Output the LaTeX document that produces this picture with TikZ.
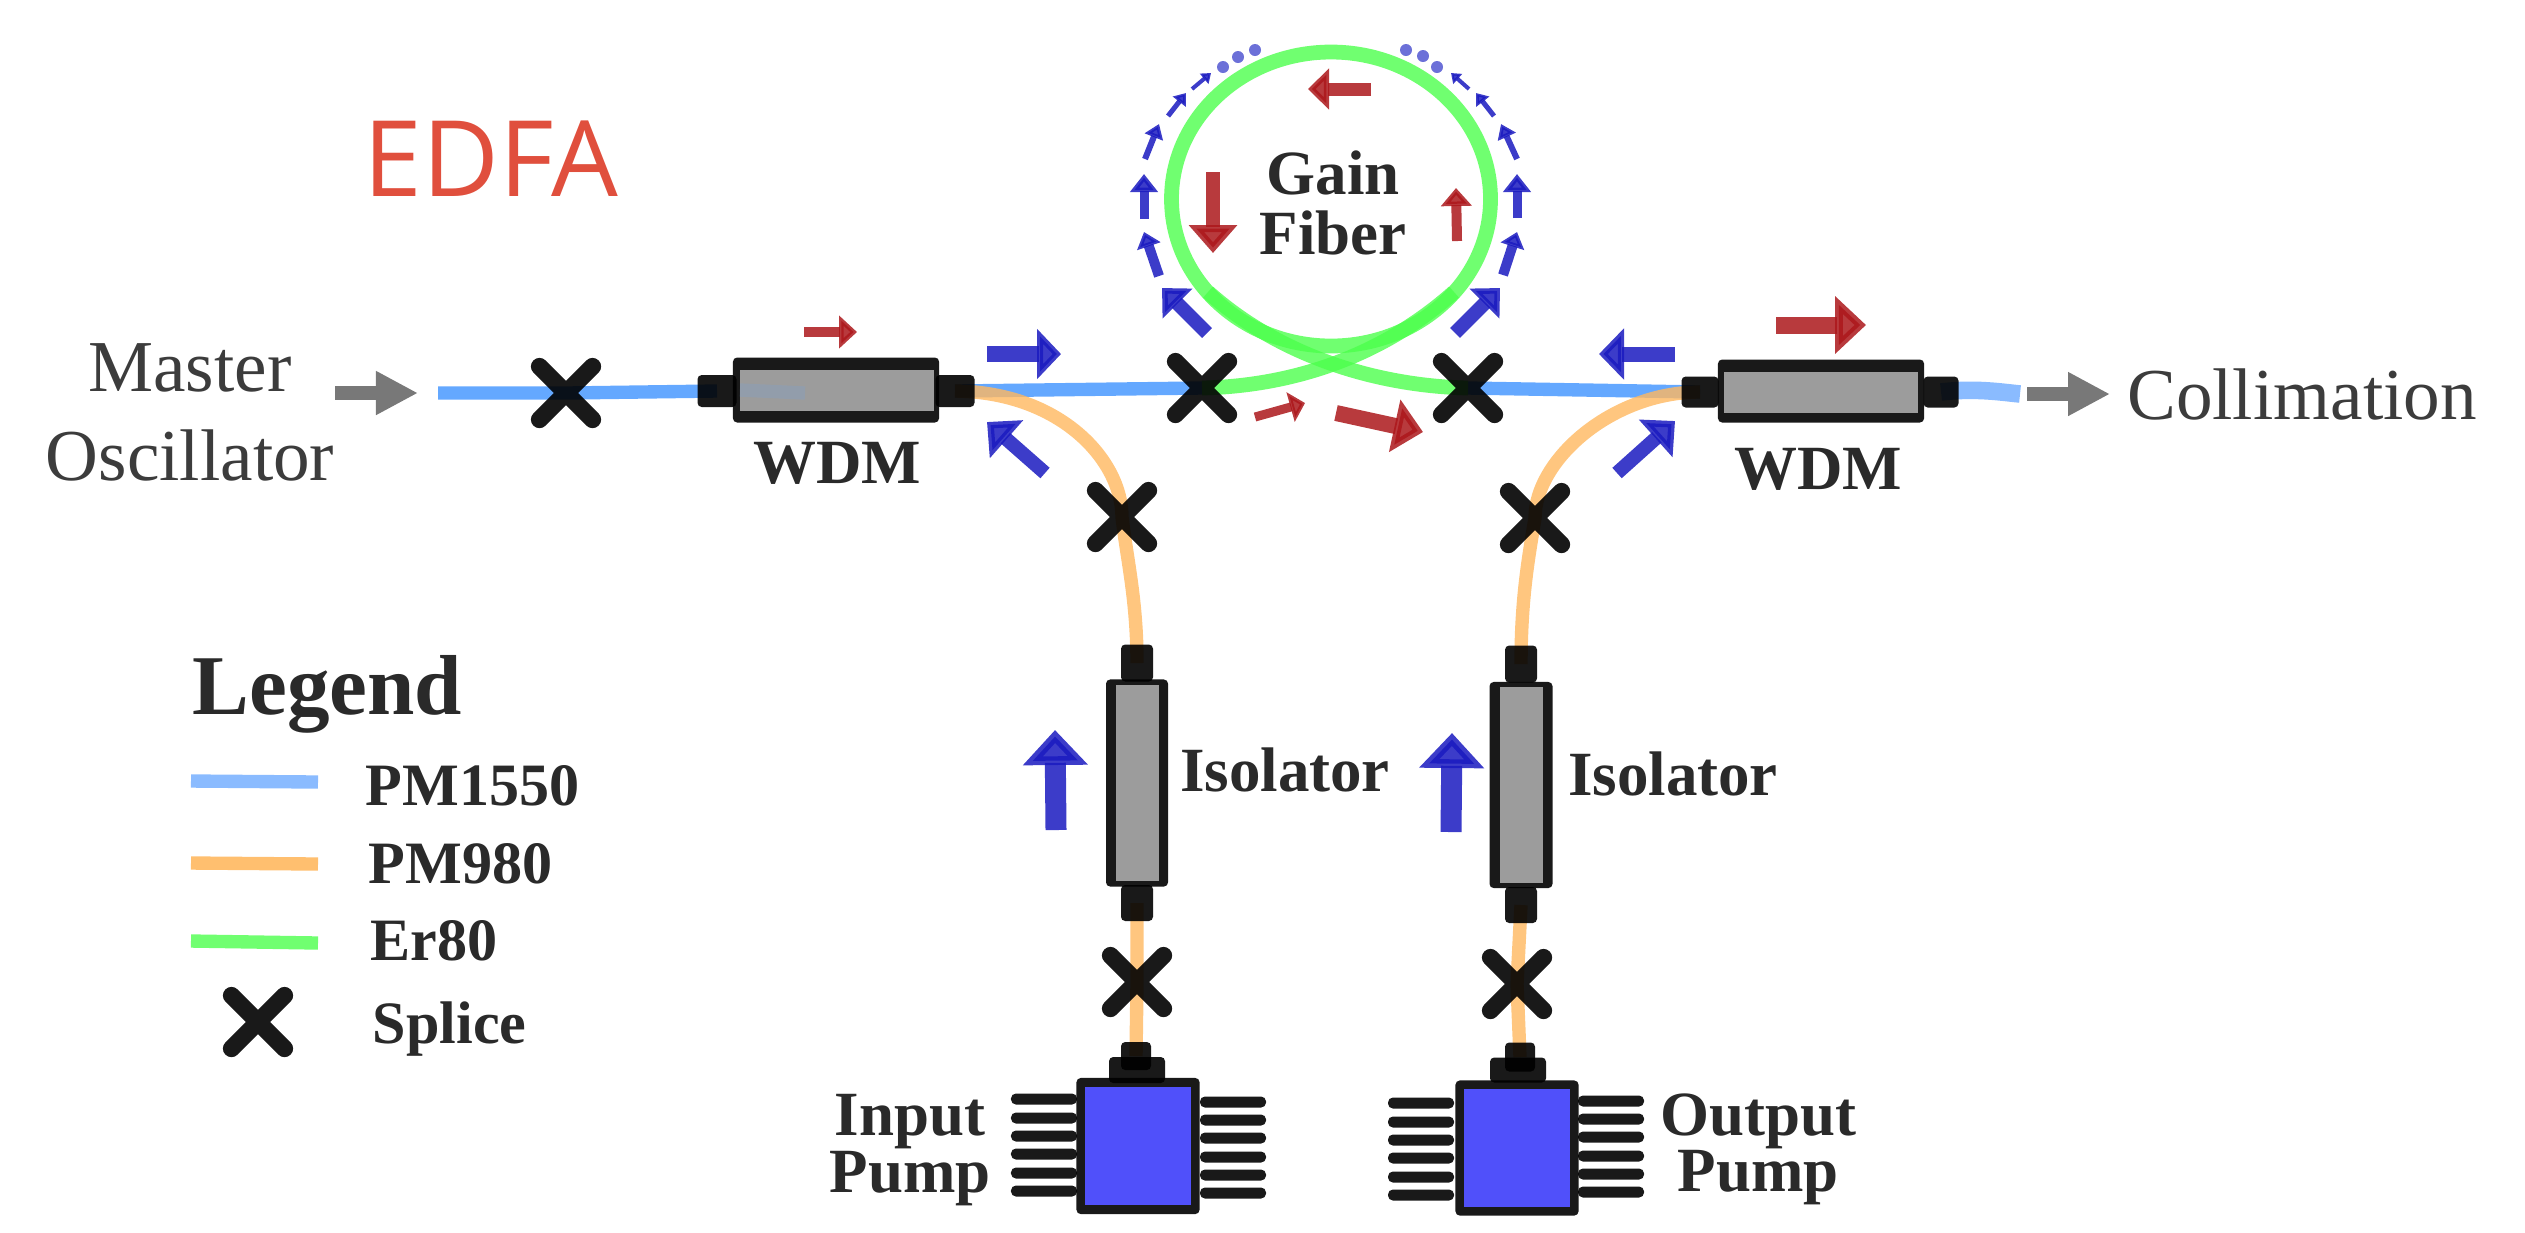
\documentclass[tikz,border=0pt]{standalone}
\usepackage{fontspec}
\setmainfont{Liberation Serif}
\newfontfamily\titlefont{Open Sans}
\usetikzlibrary{arrows.meta,backgrounds,shapes.misc}

\definecolor{fibblue}{HTML}{64A8FF}
\definecolor{fiblight}{HTML}{8ABBFF}
\definecolor{fiborange}{HTML}{FFB85F}
\definecolor{fibgreen}{HTML}{4CFF4C}
\definecolor{flowblue}{HTML}{1A1AC0}
\definecolor{flowred}{HTML}{AC171B}
\definecolor{dotblue}{HTML}{6C70D8}
\definecolor{bodygrey}{HTML}{9C9C9C}
\definecolor{pumpblue}{HTML}{5050FA}
\definecolor{edfared}{HTML}{E04F3D}
\definecolor{inktext}{HTML}{2A2A2A}
\definecolor{softtext}{HTML}{3C3C3C}

\tikzset{
  fiber/.style={line width=3.8pt},
  splice/.style={cross out, draw=black, opacity=.9, line width=4.9pt, line cap=round,
    minimum size=.53cm, inner sep=0pt, outer sep=0pt},
  block/.style={rectangle, fill=black, opacity=.9, rounded corners=1.2pt, inner sep=0pt, outer sep=0pt},
  glass/.style={rectangle, fill=bodygrey, inner sep=0pt, outer sep=0pt},
  chip/.style={rectangle, fill=pumpblue, inner sep=0pt, outer sep=0pt},
  pinbar/.style={block, minimum width=.66cm, minimum height=.11cm, rounded corners=1.4pt},
  dotmark/.style={circle, fill=dotblue, minimum size=.12cm, inner sep=0pt, outer sep=0pt},
  blueflow/.style n args={3}{draw=flowblue, opacity=.85, line width=#1*0.01cm,
    -{Triangle[length=#2*0.01cm,width=#3*0.01cm]}},
  redflow/.style n args={3}{draw=flowred, opacity=.85, line width=#1*0.01cm,
    -{Triangle[length=#2*0.01cm,width=#3*0.01cm]}},
  greyflow/.style={draw=black!53, line width=.14cm, -{Triangle[length=.42cm,width=.41cm]}},
  plain/.style={text=softtext, inner sep=0pt, align=center,
    font=\fontsize{20.8}{25.3}\selectfont},
  tag/.style={text=inktext, inner sep=0pt, align=center,
    font=\bfseries\fontsize{17.9}{16}\selectfont},
  keytag/.style={text=inktext, inner sep=0pt, anchor=base west,
    font=\bfseries\fontsize{17.1}{20}\selectfont}
}

\begin{document}
\begin{tikzpicture}[x=0.01cm,y=-0.01cm]
  \useasboundingbox (0,0) rectangle (2525,1232);

  % splices
  \node[splice] (sp1) at (566,393) {};
  \node[splice] (sp2) at (1202,388) {};
  \node[splice] (sp3) at (1468,388) {};
  \node[splice] (sp4) at (1122,517) {};
  \node[splice] (sp5) at (1535,518) {};
  \node[splice] (sp6) at (1137,982) {};
  \node[splice] (sp7) at (1517,984) {};

  % wdm couplers
  \node[block, minimum width=.39cm, minimum height=.32cm] (wdm1l) at (717,391) {};
  \node[block, minimum width=.39cm, minimum height=.32cm] (wdm1r) at (955,391) {};
  \node[block, minimum width=2.06cm, minimum height=.65cm] (wdm1) at (836,390) {};
  \node[glass, minimum width=1.94cm, minimum height=.41cm] (wdm1g) at (837,390) {};
  \node[block, minimum width=.37cm, minimum height=.31cm] (wdm2l) at (1700,392) {};
  \node[block, minimum width=.35cm, minimum height=.31cm] (wdm2r) at (1941,392) {};
  \node[block, minimum width=2.06cm, minimum height=.63cm] (wdm2) at (1821,391) {};
  \node[glass, minimum width=1.94cm, minimum height=.41cm] (wdm2g) at (1821,392) {};

  % isolators
  \node[block, minimum width=.32cm, minimum height=.37cm] (iso1t) at (1137,663) {};
  \node[block, minimum width=.32cm, minimum height=.36cm] (iso1b) at (1137,903) {};
  \node[block, minimum width=.62cm, minimum height=2.07cm] (iso1) at (1137,783) {};
  \node[glass, minimum width=.43cm, minimum height=1.95cm] (iso1g) at (1137,783) {};
  \node[block, minimum width=.32cm, minimum height=.37cm] (iso2t) at (1521,664) {};
  \node[block, minimum width=.32cm, minimum height=.36cm] (iso2b) at (1521,905) {};
  \node[block, minimum width=.63cm, minimum height=2.06cm] (iso2) at (1521,785) {};
  \node[glass, minimum width=.43cm, minimum height=1.96cm] (iso2g) at (1521,785) {};

  % pumps
  \node[block, minimum width=.3cm, minimum height=.28cm] (pump1n) at (1136,1056) {};
  \node[block, minimum width=.56cm, minimum height=.26cm] (pump1c) at (1137,1070) {};
  \node[block, minimum width=1.23cm, minimum height=1.36cm] (pump1) at (1138,1146) {};
  \node[chip, minimum width=1.05cm, minimum height=1.17cm] (pump1g) at (1138,1146) {};
  \node[block, minimum width=.3cm, minimum height=.29cm] (pump2n) at (1520,1057) {};
  \node[block, minimum width=.56cm, minimum height=.25cm] (pump2c) at (1518,1070) {};
  \node[block, minimum width=1.23cm, minimum height=1.35cm] (pump2) at (1517,1148) {};
  \node[chip, minimum width=1.05cm, minimum height=1.17cm] (pump2g) at (1517,1148) {};
  \foreach \y in {1099,1118,1136,1154,1173,1191} {
    \node[pinbar] (pin1l\y) at (1044,\y) {};
  }
  \foreach \y in {1102,1120,1138,1157,1175,1193} {
    \node[pinbar] (pin1r\y) at (1233,\y) {};
  }
  \foreach \y in {1103,1122,1140,1158,1177,1195} {
    \node[pinbar] (pin2l\y) at (1421,\y) {};
  }
  \foreach \y in {1101,1119,1137,1156,1174,1192} {
    \node[pinbar] (pin2r\y) at (1611,\y) {};
  }

  % fibers
  \coordinate (fibin) at (438,393);
  \coordinate (fibin2) at (805,393);
  \coordinate (fibout) at (2020,394);
  \coordinate (loop) at (1331,199);
  \coordinate (loopr) at (1454,292);
  \coordinate (loopl) at (1208,292);
  \begin{scope}[on background layer]
    \draw[fiber, draw=fibblue] (fibin) -- (sp1.center) -- (wdm1l.center);
    \draw[fiber, draw=fibblue] (wdm1r.center) -- (sp2.center);
    \draw[fiber, draw=fibblue] (sp3.center) -- (wdm2l.center);
    \draw[fiber, draw=fiblight, line width=5pt] (wdm2r.center) .. controls (1975,388) and (2000,392) .. (fibout);
    \begin{scope}[draw opacity=.8]
      \draw[fiber, draw=fiborange] (wdm1r.center) .. controls (1060,392) and (1122,460) .. (sp4.center)
        .. controls (1127,560) and (1137,600) .. (iso1t.center);
      \draw[fiber, draw=fiborange] (wdm2l.center) .. controls (1612,392) and (1535,460) .. (sp5.center)
        .. controls (1528,560) and (1521,600) .. (iso2t.center);
      \draw[fiber, draw=fiborange] (iso1b.center) -- (sp6.center) -- (pump1n.center);
      \draw[fiber, draw=fiborange] (iso2b.center) -- (sp7.center) -- (pump2n.center);
      \draw[fiber, draw=fibgreen, line width=4.2pt] (loop) ellipse (159.5 and 147);
      \draw[fiber, draw=fibgreen, line width=4.2pt] (sp2.center) .. controls (1290,386) and (1380,358) .. (loopr);
      \draw[fiber, draw=fibgreen, line width=4.2pt] (sp3.center) .. controls (1380,386) and (1282,358) .. (loopl);
    \end{scope}
  \end{scope}
  \draw[fiber, draw=fibblue, opacity=.16] (wdm1g.west) -- (fibin2);

  % grey arrows
  \coordinate (msta) at (335,393);
  \coordinate (mstb) at (418,393);
  \coordinate (cola) at (2027,394);
  \coordinate (colb) at (2110,394);
  \draw[greyflow] (msta) -- (mstb);
  \draw[greyflow] (cola) -- (colb);

  % pump light
  \coordinate (a1s) at (1207,333); \coordinate (a1e) at (1162,288);
  \coordinate (a2s) at (1159,276); \coordinate (a2e) at (1144,232);
  \coordinate (a3s) at (1144,219); \coordinate (a3e) at (1144,174);
  \coordinate (a4s) at (1145,159); \coordinate (a4e) at (1159,124);
  \coordinate (a5s) at (1168,116); \coordinate (a5e) at (1186,93);
  \coordinate (a6s) at (1192,89);  \coordinate (a6e) at (1211,73);
  \coordinate (b1s) at (1455,333); \coordinate (b1e) at (1500,288);
  \coordinate (b2s) at (1503,275); \coordinate (b2e) at (1517,232);
  \coordinate (b3s) at (1517,218); \coordinate (b3e) at (1517,174);
  \coordinate (b4s) at (1517,159); \coordinate (b4e) at (1501,124);
  \coordinate (b5s) at (1494,116); \coordinate (b5e) at (1476,93);
  \coordinate (b6s) at (1469,89);  \coordinate (b6e) at (1451,73);
  \draw[blueflow={14}{22}{41}] (a1s) -- (a1e);
  \draw[blueflow={10}{15}{24}] (a2s) -- (a2e);
  \draw[blueflow={9}{18}{27}] (a3s) -- (a3e);
  \draw[blueflow={6}{14}{19}] (a4s) -- (a4e);
  \draw[blueflow={5}{11}{16}] (a5s) -- (a5e);
  \draw[blueflow={4}{9}{13}] (a6s) -- (a6e);
  \draw[blueflow={14}{22}{41}] (b1s) -- (b1e);
  \draw[blueflow={10}{15}{24}] (b2s) -- (b2e);
  \draw[blueflow={9}{18}{27}] (b3s) -- (b3e);
  \draw[blueflow={6}{14}{19}] (b4s) -- (b4e);
  \draw[blueflow={5}{11}{16}] (b5s) -- (b5e);
  \draw[blueflow={4}{9}{13}] (b6s) -- (b6e);
  \node[dotmark] (d1) at (1223,67) {};
  \node[dotmark] (d2) at (1238,57) {};
  \node[dotmark] (d3) at (1255,50) {};
  \node[dotmark] (d4) at (1437,67) {};
  \node[dotmark] (d5) at (1423,56) {};
  \node[dotmark] (d6) at (1406,50) {};

  \coordinate (c1s) at (987,354);   \coordinate (c1e) at (1061,354);
  \coordinate (c2s) at (1045,473);  \coordinate (c2e) at (987,422);
  \coordinate (c3s) at (1675,354);  \coordinate (c3e) at (1599,354);
  \coordinate (c4s) at (1617,473);  \coordinate (c4e) at (1675,421);
  \coordinate (c5s) at (1056,830);  \coordinate (c5e) at (1055,730);
  \coordinate (c6s) at (1451,832);  \coordinate (c6e) at (1452,733);
  \draw[blueflow={16}{24}{49}] (c1s) -- (c1e);
  \draw[blueflow={14}{26}{49}] (c2s) -- (c2e);
  \draw[blueflow={15}{25}{50}] (c3s) -- (c3e);
  \draw[blueflow={14}{26}{49}] (c4s) -- (c4e);
  \draw[blueflow={21}{35}{63}] (c5s) -- (c5e);
  \draw[blueflow={21}{35}{63}] (c6s) -- (c6e);

  % signal light
  \coordinate (r1s) at (804,332);   \coordinate (r1e) at (857,332);
  \coordinate (r2s) at (1776,325);  \coordinate (r2e) at (1866,325);
  \coordinate (r3s) at (1371,89);   \coordinate (r3e) at (1308,89);
  \coordinate (r4s) at (1213,172);  \coordinate (r4e) at (1213,253);
  \coordinate (r5s) at (1457,241);  \coordinate (r5e) at (1456,188);
  \coordinate (r6s) at (1255,417);  \coordinate (r6e) at (1305,403);
  \coordinate (r7s) at (1336,413);  \coordinate (r7e) at (1423,432);
  \draw[redflow={10}{18}{32}] (r1s) -- (r1e);
  \draw[redflow={17}{31}{56}] (r2s) -- (r2e);
  \draw[redflow={13}{21}{40}] (r3s) -- (r3e);
  \draw[redflow={14}{28}{47}] (r4s) -- (r4e);
  \draw[redflow={10}{18}{30}] (r5s) -- (r5e);
  \draw[redflow={9}{15}{30}] (r6s) -- (r6e);
  \draw[redflow={16}{29}{52}] (r7s) -- (r7e);

  % texts
  \node[anchor=base west, inner sep=0pt, text=edfared, font=\titlefont\fontsize{30}{31}\selectfont] (edfa) at (363,196) {EDFA};
  \node[plain] (mo) at (190,412) {Master\\Oscillator};
  \node[plain, anchor=base] (coll) at (2302,419) {Collimation};
  \node[tag, anchor=base] (wdmt1) at (837,483) {WDM};
  \node[tag, anchor=base] (wdmt2) at (1818,489) {WDM};
  \node[tag] (gain) at (1333,203) {Gain\\[1pt]Fiber};
  \node[tag, anchor=base] (isot1) at (1285,791) {Isolator};
  \node[tag, anchor=base] (isot2) at (1673,795) {Isolator};
  \node[tag] (ipump) at (910,1150) {Input\\Pump};
  \node[tag] (opump) at (1758,1149) {Output\\Pump};

  % legend
  \node[text=inktext, inner sep=0pt, anchor=base west, font=\bfseries\fontsize{24.2}{26}\selectfont] (leg) at (192,714) {Legend};
  \coordinate (k1a) at (191,781);  \coordinate (k1b) at (318,782);
  \coordinate (k2a) at (191,863);  \coordinate (k2b) at (318,864);
  \coordinate (k3a) at (191,941);  \coordinate (k3b) at (318,943);
  \draw[fiber, draw=fiblight] (k1a) -- (k1b);
  \draw[fiber, draw=fiborange!90!white] (k2a) -- (k2b);
  \draw[fiber, draw=fibgreen, opacity=.8] (k3a) -- (k3b);
  \node[splice] (sp8) at (258,1022) {};
  \node[keytag] (k1) at (365,805) {PM1550};
  \node[keytag] (k2) at (368,883) {PM980};
  \node[keytag] (k3) at (370,960) {Er80};
  \node[keytag] (k4) at (372,1043) {Splice};
\end{tikzpicture}
\end{document}
